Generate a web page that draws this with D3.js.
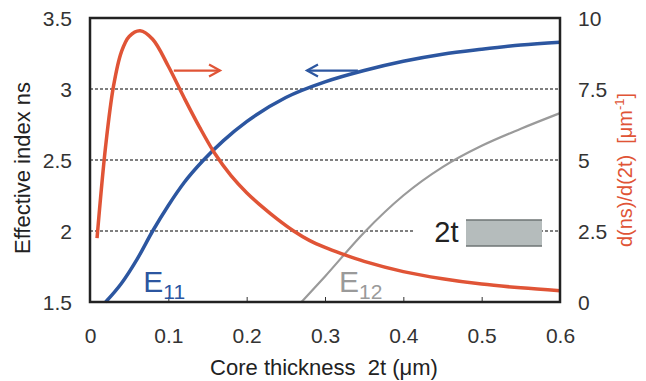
<!DOCTYPE html>
<html>
<head>
<meta charset="utf-8">
<script src="https://cdn.jsdelivr.net/npm/d3@7"></script>
<style>
  body { margin: 0; background: #fff; }
  text { font-family: "Liberation Sans", Arial, sans-serif; }
</style>
</head>
<body>
<svg width="646" height="381"></svg>
<script>
// effective index of the two modes (left axis)
var e11Thick = [0.02, 0.04, 0.06, 0.08, 0.1, 0.12, 0.145, 0.17, 0.2, 0.25, 0.3, 0.35, 0.4, 0.45, 0.5, 0.55, 0.6];
var e11Index = [1.5, 1.63, 1.8, 2.0, 2.18, 2.34, 2.5, 2.635, 2.77, 2.94, 3.05, 3.13, 3.195, 3.245, 3.28, 3.31, 3.33];
var e12Thick = [0.27, 0.3, 0.35, 0.4, 0.45, 0.5, 0.55, 0.6];
var e12Index = [1.5, 1.68, 1.99, 2.25, 2.45, 2.6, 2.72, 2.83];
// derivative d(ns)/d(2t) (right axis)
var derThick = [0.009, 0.02, 0.03, 0.04, 0.05, 0.064, 0.08, 0.1, 0.12, 0.14, 0.16, 0.18, 0.2, 0.22, 0.24, 0.26, 0.28, 0.3, 0.32, 0.35, 0.4, 0.45, 0.5, 0.55, 0.6];
var derValue = [2.25, 5.5, 7.6, 8.8, 9.35, 9.55, 9.25, 8.3, 7.2, 6.15, 5.2, 4.45, 3.85, 3.35, 2.9, 2.5, 2.17, 1.92, 1.71, 1.43, 1.07, 0.82, 0.63, 0.5, 0.4];

var xTicks = [0, 0.1, 0.2, 0.3, 0.4, 0.5, 0.6];
var leftTicks = [1.5, 2, 2.5, 3, 3.5];
var rightTicks = [0, 2.5, 5, 7.5, 10];
var gridValues = [2, 2.5, 3];

var svg = d3.select("svg"),
    margin = {top: 18, right: 86, bottom: 79, left: 90},
    width = +svg.attr("width") - margin.left - margin.right,
    height = +svg.attr("height") - margin.top - margin.bottom,
    g = svg.append("g").attr("transform", "translate(" + margin.left + "," + margin.top + ")");

var x = d3.scaleLinear().domain([0, 0.6]).range([0, width]);
var y = d3.scaleLinear().domain([1.5, 3.5]).range([height, 0]);
var y2 = d3.scaleLinear().domain([0, 10]).range([height, 0]);

var red = "#e05436", blue = "#2c56a0", grey = "#9a9a9a";
var tickFont = 21;

// dashed grid lines
g.selectAll(".grid")
  .data(gridValues)
  .enter().append("line")
    .attr("x1", 0).attr("x2", width)
    .attr("y1", function(d) { return y(d); })
    .attr("y2", function(d) { return y(d); })
    .attr("stroke", "#555")
    .attr("stroke-width", 1.3)
    .attr("stroke-dasharray", "3,2");

// bottom axis
g.append("g")
    .attr("transform", "translate(0," + height + ")")
    .call(d3.axisBottom(x).tickValues(xTicks).tickSize(-5).tickPadding(26).tickFormat(d3.format("")))
    .call(function(a) {
      a.select(".domain").remove();
      a.selectAll("line").attr("stroke", "#333");
      a.selectAll("text").attr("font-size", tickFont).attr("fill", "#333").attr("font-family", "Liberation Sans, Arial, sans-serif");
    });

g.append("g")
    .call(d3.axisLeft(y).tickValues(leftTicks).tickSize(0).tickPadding(18).tickFormat(d3.format("")))
    .call(function(a) {
      a.select(".domain").remove();
      a.selectAll("text").attr("font-size", tickFont).attr("fill", "#333").attr("dy", "0.35em").attr("font-family", "Liberation Sans, Arial, sans-serif");
    });

g.append("g")
    .attr("transform", "translate(" + width + ",0)")
    .call(d3.axisRight(y2).tickValues(rightTicks).tickSize(0).tickPadding(18).tickFormat(d3.format("")))
    .call(function(a) {
      a.select(".domain").remove();
      a.selectAll("text").attr("font-size", tickFont).attr("fill", "#333").attr("dy", "0.35em").attr("font-family", "Liberation Sans, Arial, sans-serif");
    });

// inset: slab sketch
g.append("rect")
    .attr("x", x(0.415) - 2).attr("y", y(2) - 8)
    .attr("width", x(0.48) - x(0.415) + 2).attr("height", 16)
    .attr("fill", "#fff");
g.append("rect")
    .attr("x", x(0.48)).attr("y", y(2) - 11)
    .attr("width", x(0.577) - x(0.48)).attr("height", 26)
    .attr("fill", "#b5bcbc");
[y(2) - 11, y(2) + 15].forEach(function(yy) {
  g.append("line")
    .attr("x1", x(0.48)).attr("x2", x(0.577))
    .attr("y1", yy).attr("y2", yy)
    .attr("stroke", "#6e7474").attr("stroke-width", 1.5);
});
g.append("text")
    .attr("x", x(0.455)).attr("y", y(2) + 11)
    .attr("text-anchor", "middle")
    .attr("font-size", 29)
    .attr("fill", "#222")
    .text("2t");

// curves
var line = d3.line().curve(d3.curveMonotoneX);

g.append("path")
    .attr("d", line(e12Thick.map(function(t, i) { return [x(t), y(e12Index[i])]; })))
    .attr("fill", "none").attr("stroke", grey).attr("stroke-width", 2.2);

g.append("path")
    .attr("d", line(e11Thick.map(function(t, i) { return [x(t), y(e11Index[i])]; })))
    .attr("fill", "none").attr("stroke", blue).attr("stroke-width", 3.5);

g.append("path")
    .attr("d", d3.line().curve(d3.curveCatmullRom)(derThick.map(function(t, i) { return [x(t), y2(derValue[i])]; })))
    .attr("fill", "none").attr("stroke", red).attr("stroke-width", 3.5);

// arrows
var arrowY = y(3.13);
g.append("line")
    .attr("x1", x(0.107)).attr("x2", x(0.166))
    .attr("y1", arrowY).attr("y2", arrowY)
    .attr("stroke", red).attr("stroke-width", 2.2);
g.append("path")
    .attr("d", "M" + (x(0.166) - 11) + "," + (arrowY - 6) + "L" + x(0.166) + "," + arrowY + "L" + (x(0.166) - 11) + "," + (arrowY + 6))
    .attr("fill", "none").attr("stroke", red).attr("stroke-width", 2.2);
g.append("line")
    .attr("x1", x(0.277)).attr("x2", x(0.342))
    .attr("y1", arrowY).attr("y2", arrowY)
    .attr("stroke", blue).attr("stroke-width", 2.2);
g.append("path")
    .attr("d", "M" + (x(0.277) + 11) + "," + (arrowY - 6) + "L" + x(0.277) + "," + arrowY + "L" + (x(0.277) + 11) + "," + (arrowY + 6))
    .attr("fill", "none").attr("stroke", blue).attr("stroke-width", 2.2);

// mode labels
var e11 = g.append("text")
    .attr("x", x(0.068)).attr("y", height - 10)
    .attr("font-size", 30).attr("fill", blue);
e11.append("tspan").text("E");
e11.append("tspan").attr("font-size", 21).attr("dy", 7).text("11");

var e12 = g.append("text")
    .attr("x", x(0.318)).attr("y", height - 10)
    .attr("font-size", 30).attr("fill", grey);
e12.append("tspan").text("E");
e12.append("tspan").attr("font-size", 21).attr("dy", 7).text("12");

// frame
g.append("rect")
    .attr("width", width).attr("height", height)
    .attr("fill", "none").attr("stroke", "#222").attr("stroke-width", 2.5);

// axis titles
svg.append("text")
    .attr("transform", "translate(30,168) rotate(-90)")
    .attr("text-anchor", "middle")
    .attr("font-size", 22).attr("fill", "#222")
    .text("Effective index ns");

var rt = svg.append("text")
    .attr("transform", "translate(632,170) rotate(-90)")
    .attr("text-anchor", "middle")
    .attr("font-size", 20).attr("fill", red);
rt.append("tspan").text("d(ns)/d(2t)\u00a0\u00a0[\u03bcm");
rt.append("tspan").attr("font-size", 13).attr("dy", -8).text("-1");
rt.append("tspan").attr("dy", 8).text("]");

svg.append("text")
    .attr("x", 324).attr("y", 375)
    .attr("text-anchor", "middle")
    .attr("font-size", 22).attr("fill", "#222")
    .text("Core thickness\u00a0\u00a02t (\u03bcm)");
</script>
</body>
</html>
